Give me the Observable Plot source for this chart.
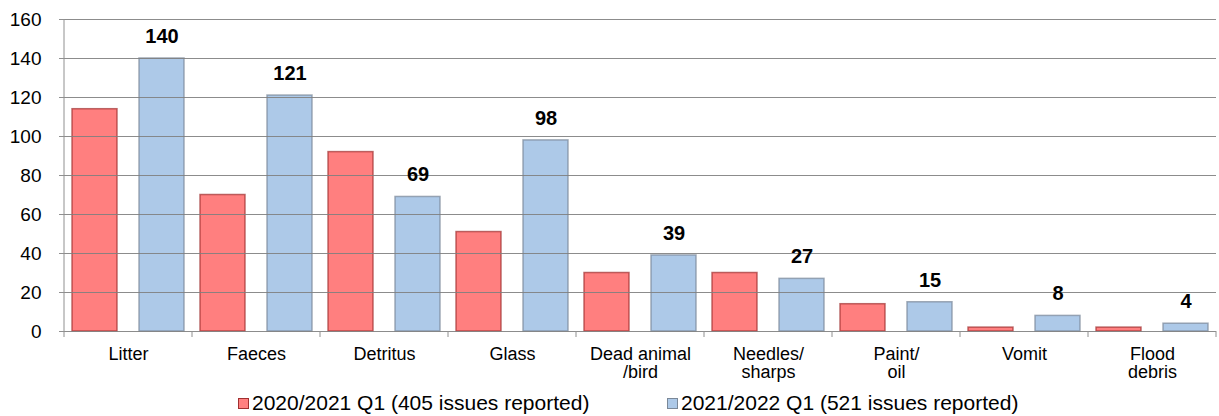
<!DOCTYPE html>
<html>
<head>
<meta charset="utf-8">
<script src="https://cdn.jsdelivr.net/npm/d3@7"></script>
<script src="https://cdn.jsdelivr.net/npm/@observablehq/plot@0.6"></script>
<style>
  html, body { margin: 0; padding: 0; background: #fff; }
  body { width: 1219px; height: 416px; overflow: hidden; font-family: "Liberation Sans", Arial, sans-serif; }
  #legend { position: relative; height: 26px; font-size: 21px; color: #000; }
  .item { position: absolute; top: 0; line-height: 26px; display: flex; align-items: center; white-space: nowrap; }
  .sw { width: 11px; height: 11px; margin-right: 3px; box-sizing: border-box; }
</style>
</head>
<body>
<div id="chart"></div>
<div id="legend"></div>
<script>
const categories = ["Litter", "Faeces", "Detritus", "Glass", "Dead animal\n/bird", "Needles/\nsharps", "Paint/\noil", "Vomit", "Flood\ndebris"];
const series = ["2020/2021 Q1 (405 issues reported)", "2021/2022 Q1 (521 issues reported)"];
const values2020 = [114, 70, 92, 51, 30, 30, 14, 2, 2];
const values2021 = [140, 121, 69, 98, 39, 27, 15, 8, 4];
const yTicks = [0, 20, 40, 60, 80, 100, 120, 140, 160];

const fills = ["#ff0000", "#5b93d1"];
const strokes = ["#a03030", "#7a8898"];

const data = [];
categories.forEach((c, i) => {
  data.push({category: c, series: series[0], value: values2020[i]});
  data.push({category: c, series: series[1], value: values2021[i]});
});
const labelled = data.filter(d => d.series === series[1]);

const plot = Plot.plot({
  width: 1219,
  height: 390,
  marginLeft: 62,
  marginRight: 1,
  marginTop: 19,
  marginBottom: 59,
  style: {fontFamily: "Liberation Sans, Arial, sans-serif", fontSize: "18px", color: "#000", background: "#fff"},
  fx: {domain: categories, padding: 0, label: null, axis: null},
  x: {domain: series, paddingInner: 0.3235, paddingOuter: 0.103, axis: null},
  y: {domain: [0, 160], ticks: yTicks, label: null, axis: null},
  color: {domain: series, range: fills},
  marks: [
    Plot.barY(data, {fx: "category", x: "series", y: "value", fill: "series", fillOpacity: 0.5,
      stroke: d => strokes[series.indexOf(d.series)], strokeOpacity: 0.7, strokeWidth: 1.5}),
    Plot.gridY(yTicks, {stroke: "#808080", strokeOpacity: 0.9}),
    Plot.axisY(yTicks, {tickSize: 5, tickPadding: 18, fontSize: 19, stroke: "#909090", label: null}),
    Plot.axisFx({anchor: "bottom", tickSize: 0, tickPadding: 16, fontSize: 18, label: null}),
    Plot.text(labelled, {fx: "category", x: "series", y: "value", text: d => String(d.value),
      dy: -22, fontWeight: "bold", fontSize: 20, fill: "#000"})
  ]
});
document.getElementById("chart").appendChild(plot);

// boundary ticks on category axis and left axis line
const svg = d3.select(plot.tagName === "svg" ? plot : plot.querySelector("svg"));
const fx = plot.scale("fx");
const y = plot.scale("y");
const y0 = y.apply(0);
const bounds = categories.map(c => fx.apply(c));
bounds.push(fx.apply(categories[categories.length - 1]) + fx.bandwidth);
svg.append("g").selectAll("line").data(bounds).join("line")
  .attr("x1", d => d).attr("x2", d => d)
  .attr("y1", y0).attr("y2", y0 + 6)
  .attr("stroke", "#909090");
svg.append("line").attr("x1", bounds[0]).attr("x2", bounds[0])
  .attr("y1", y.apply(160)).attr("y2", y0).attr("stroke", "#909090");

// legend
const legend = d3.select("#legend");
const lx = [238, 667];
series.forEach((s, i) => {
  const it = legend.append("div").attr("class", "item").style("left", lx[i] + "px");
  it.append("div").attr("class", "sw")
    .style("background", d3.interpolateRgb("#ffffff", fills[i])(0.5))
    .style("border", "1px solid " + strokes[i]);
  it.append("span").text(s);
});
</script>
</body>
</html>
